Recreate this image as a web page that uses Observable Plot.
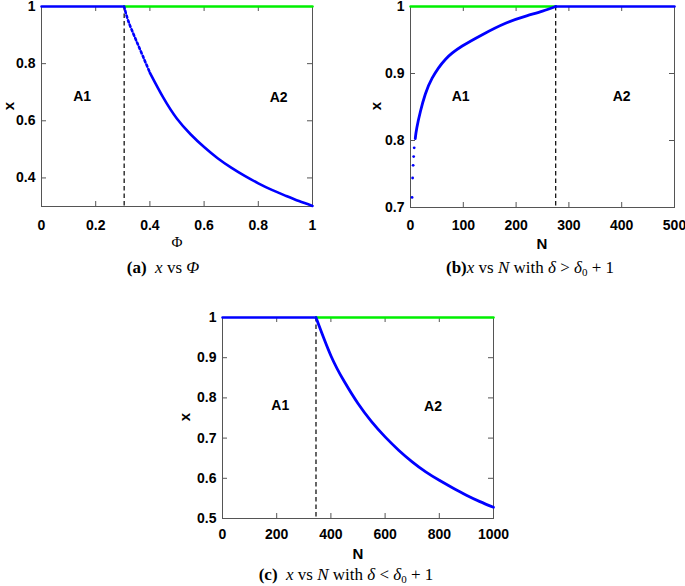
<!DOCTYPE html>
<html><head><meta charset="utf-8">
<script src="https://cdn.jsdelivr.net/npm/d3@7"></script>
<script src="https://cdn.jsdelivr.net/npm/@observablehq/plot@0.6"></script>
<style>
body{margin:0;background:#fff}
#root{position:relative;width:685px;height:586px;overflow:hidden;background:#fff}
.panel{position:absolute}
.lbl{position:absolute;font-family:"Liberation Sans",Arial,sans-serif;font-weight:bold;font-size:15px;color:#000;line-height:1;white-space:nowrap;transform:translate(-50%,-50%)}
.lbl.rot{transform:translate(-50%,-50%) rotate(-90deg)}
.lbl.serif{font-family:"Liberation Serif","Times New Roman",serif;font-weight:normal;font-size:15px}
.cap{position:absolute;font-family:"Liberation Serif","Times New Roman",serif;font-size:17px;color:#000;white-space:nowrap;line-height:1;transform:translateX(-50%)}
.cap b{font-weight:bold}
.cap sub{font-size:11px;vertical-align:-3px;line-height:0}
</style></head><body><div id="root"></div>
<script>
// ---------- Panel (a): x vs Phi ----------
const phiA = [0.305, 0.32, 0.35, 0.40, 0.45, 0.50, 0.55, 0.60, 0.65, 0.70, 0.75, 0.80, 0.85, 0.90, 0.95, 1.00];
const xA   = [1.000, 0.950, 0.880, 0.768, 0.680, 0.607, 0.553, 0.508, 0.469, 0.436, 0.407, 0.381, 0.358, 0.338, 0.319, 0.302];
const thresholdA = 0.305;
const xTicksA = [0, 0.2, 0.4, 0.6, 0.8, 1];
const yTicksA = [0.4, 0.6, 0.8, 1];
const regionLabelsA = [{x: 0.15, y: 0.685, t: "A1"}, {x: 0.875, y: 0.68, t: "A2"}];

// ---------- Panel (b): x vs N with delta > delta0 + 1 ----------
const nB = [3, 4, 5, 6, 7, 9, 12, 19, 28, 41, 66, 98, 136, 180, 220, 250, 275];
const xB = [0.715, 0.744, 0.763, 0.776, 0.789, 0.803, 0.819, 0.844, 0.869, 0.893, 0.921, 0.941, 0.958, 0.975, 0.986, 0.993, 1.000];
const thresholdB = 275;
const xTicksB = [0, 100, 200, 300, 400, 500];
const yTicksB = [0.7, 0.8, 0.9, 1];
const regionLabelsB = [{x: 95, y: 0.866, t: "A1"}, {x: 400, y: 0.866, t: "A2"}];

// ---------- Panel (c): x vs N with delta < delta0 + 1 ----------
const nC = [345, 400, 450, 500, 550, 600, 650, 700, 750, 800, 850, 900, 950, 1000];
const xC = [1.000, 0.905, 0.840, 0.786, 0.741, 0.703, 0.670, 0.641, 0.616, 0.595, 0.576, 0.558, 0.542, 0.528];
const thresholdC = 345;
const xTicksC = [0, 200, 400, 600, 800, 1000];
const yTicksC = [0.5, 0.6, 0.7, 0.8, 0.9, 1];
const regionLabelsC = [{x: 213, y: 0.78, t: "A1"}, {x: 777, y: 0.778, t: "A2"}];

const BLUE = "#0000ff", GREEN = "#00f000", AX = "#555";
const root = document.getElementById("root");

function makePanel(o) {
  const pw = o.width - o.ml - o.mr, ph = o.height - o.mt - o.mb;
  const tl = 5;
  const fmt = d => String(d);
  const chart = Plot.plot({
    width: o.width, height: o.height,
    marginLeft: o.ml, marginRight: o.mr, marginTop: o.mt, marginBottom: o.mb,
    x: {domain: o.xDomain}, y: {domain: o.yDomain},
    style: {fontFamily: "'Liberation Sans', Arial, sans-serif", fontSize: "14px", fontWeight: "bold", color: "black", background: "transparent", overflow: "visible"},
    marks: [
      Plot.frame({stroke: AX, strokeWidth: 1}),
      Plot.tickX(o.xTicks, {x: d => d, insetTop: ph - tl, stroke: AX}),
      Plot.tickX(o.xTicks, {x: d => d, insetBottom: ph - tl, stroke: AX}),
      Plot.tickY(o.yTicks, {y: d => d, insetRight: pw - tl, stroke: AX}),
      Plot.tickY(o.yTicks, {y: d => d, insetLeft: pw - tl, stroke: AX}),
      Plot.axisX({ticks: o.xTicks, tickSize: 0, tickPadding: o.xPad, tickFormat: fmt, label: null}),
      Plot.axisY({ticks: o.yTicks, tickSize: 0, tickPadding: 6, tickFormat: fmt, label: null}),
      Plot.ruleX([o.threshold], {x: d => d, stroke: "black", strokeWidth: 1.2, strokeDasharray: "4.5,3"}),
      ...o.marks,
      Plot.text(o.regions, {x: "x", y: "y", text: "t", fontSize: 14, fontWeight: "bold", fill: "black"})
    ]
  });
  chart.classList.add("panel");
  chart.style.left = o.left + "px";
  chart.style.top = o.top + "px";
  root.appendChild(chart);
}

const dataA = phiA.map((p, i) => ({x: p, y: xA[i]}));
makePanel({
  left: 0, top: 0, width: 340, height: 235, ml: 41, mr: 28, mt: 6, mb: 29, xPad: 14,
  xDomain: [0, 1], yDomain: [0.3, 1], xTicks: xTicksA, yTicks: yTicksA,
  threshold: thresholdA, regions: regionLabelsA,
  marks: [
    Plot.line([{x: 0, y: 1}, {x: thresholdA, y: 1}], {x: "x", y: "y", stroke: BLUE, strokeWidth: 2.5}),
    Plot.line([{x: thresholdA, y: 1}, {x: 1, y: 1}], {x: "x", y: "y", stroke: GREEN, strokeWidth: 2.5}),
    Plot.line(dataA.filter(d => d.x <= 0.40), {x: "x", y: "y", stroke: BLUE, strokeWidth: 2.6, strokeDasharray: "2.2,2.6", curve: "natural"}),
    Plot.line(dataA.filter(d => d.x >= 0.40), {x: "x", y: "y", stroke: BLUE, strokeWidth: 2.6, curve: "natural"})
  ]
});

const dataB = nB.map((n, i) => ({x: n, y: xB[i]}));
makePanel({
  left: 340, top: 0, width: 345, height: 235, ml: 70, mr: 11, mt: 6, mb: 28, xPad: 13,
  xDomain: [0, 500], yDomain: [0.7, 1], xTicks: xTicksB, yTicks: yTicksB,
  threshold: thresholdB, regions: regionLabelsB,
  marks: [
    Plot.line([{x: 0, y: 1}, {x: thresholdB, y: 1}], {x: "x", y: "y", stroke: GREEN, strokeWidth: 2.5}),
    Plot.line([{x: thresholdB, y: 1}, {x: 500, y: 1}], {x: "x", y: "y", stroke: BLUE, strokeWidth: 2.5}),
    Plot.dot(dataB.filter(d => d.x < 9), {x: "x", y: "y", r: 1.4, fill: BLUE, stroke: "none"}),
    Plot.line(dataB.filter(d => d.x >= 9), {x: "x", y: "y", stroke: BLUE, strokeWidth: 2.8, curve: "natural"})
  ]
});

const dataC = nC.map((n, i) => ({x: n, y: xC[i]}));
makePanel({
  left: 170, top: 300, width: 340, height: 240, ml: 52, mr: 17, mt: 17, mb: 22, xPad: 11,
  xDomain: [0, 1000], yDomain: [0.5, 1], xTicks: xTicksC, yTicks: yTicksC,
  threshold: thresholdC, regions: regionLabelsC,
  marks: [
    Plot.line([{x: 0, y: 1}, {x: thresholdC, y: 1}], {x: "x", y: "y", stroke: BLUE, strokeWidth: 2.5}),
    Plot.line([{x: thresholdC, y: 1}, {x: 1000, y: 1}], {x: "x", y: "y", stroke: GREEN, strokeWidth: 2.5}),
    Plot.line(dataC, {x: "x", y: "y", stroke: BLUE, strokeWidth: 2.8, curve: "natural"})
  ]
});

// axis titles and captions
function addHTML(cls, x, y, html) {
  const d = document.createElement("div");
  d.className = cls;
  d.style.left = x + "px";
  d.style.top = y + "px";
  d.innerHTML = html;
  root.appendChild(d);
}
addHTML("lbl rot", 8, 106, "x");
addHTML("lbl serif", 177, 242, "Φ");
addHTML("lbl rot", 375, 106, "x");
addHTML("lbl", 542, 243, "N");
addHTML("lbl rot", 184, 417, "x");
addHTML("lbl", 358, 553, "N");
addHTML("cap", 163, 259, "<b>(a)</b>&nbsp;&nbsp;<i>x</i> vs <i>Φ</i>");
addHTML("cap", 530, 259, "<b>(b)</b><i>x</i> vs <i>N</i> with <i>δ</i> &gt; <i>δ</i><sub>0</sub> + 1");
addHTML("cap", 346, 566, "<b>(c)</b>&nbsp;&nbsp;<i>x</i> vs <i>N</i> with <i>δ</i> &lt; <i>δ</i><sub>0</sub> + 1");
</script></body></html>
